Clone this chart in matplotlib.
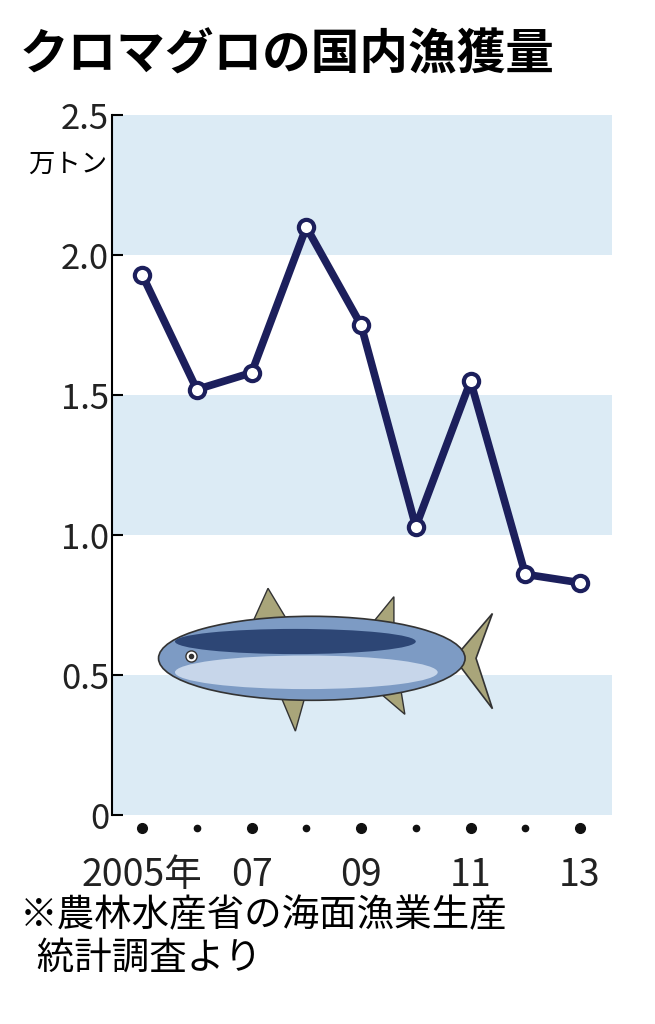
import matplotlib.pyplot as plt
import matplotlib.patches as mpatches

plt.rcParams['font.family'] = ['Noto Sans CJK JP', 'DejaVu Sans']

years = [2005, 2006, 2007, 2008, 2009, 2010, 2011, 2012, 2013]
catch = [1.93, 1.52, 1.58, 2.10, 1.75, 1.03, 1.55, 0.86, 0.83]
tick_vals = [0, 0.5, 1.0, 1.5, 2.0, 2.5]
tick_text = ['0', '0.5', '1.0', '1.5', '2.0', '2.5']
xlabels = {2005: '2005年', 2007: '07', 2009: '09', 2011: '11', 2013: '13'}

navy = '#1c1f5c'
band = '#dcebf5'

fig = plt.figure(figsize=(6.55, 10.24), dpi=100)
ax = fig.add_axes([0.171, 0.204, 0.763, 0.6836])
ax.set_xlim(2004.45, 2013.58)
ax.set_ylim(0, 2.5)
for lo in [0, 1.0, 2.0]:
    ax.axhspan(lo, lo + 0.5, color=band, zorder=0, lw=0)

# fish decoration
ax.add_patch(mpatches.Ellipse((2008.1, 0.56), 5.6, 0.30, facecolor='#7d9bc4',
                              edgecolor='#333', lw=1.2, zorder=2))
ax.add_patch(mpatches.Ellipse((2008.0, 0.51), 4.8, 0.12, facecolor='#c7d6ea',
                              edgecolor='none', zorder=3))
ax.add_patch(mpatches.Ellipse((2007.8, 0.62), 4.4, 0.09, facecolor='#2d4675',
                              edgecolor='none', zorder=3))
ax.add_patch(mpatches.Polygon([[2010.7, 0.56], [2011.4, 0.72], [2011.1, 0.56],
                               [2011.4, 0.38]], facecolor='#a9a57a',
                              edgecolor='#333', lw=1.2, zorder=1))
for pts in ([[2007.0, 0.68], [2007.3, 0.81], [2007.7, 0.68]],
            [[2009.1, 0.66], [2009.6, 0.78], [2009.6, 0.64]],
            [[2007.5, 0.44], [2007.8, 0.30], [2008.0, 0.44]],
            [[2009.2, 0.46], [2009.8, 0.36], [2009.7, 0.48]]):
    ax.add_patch(mpatches.Polygon(pts, facecolor='#a9a57a', edgecolor='#333',
                                  lw=1.0, zorder=1))
ax.plot([2005.9], [0.57], 'o', ms=8, mfc='white', mec='#333', zorder=4)
ax.plot([2005.9], [0.57], 'o', ms=3, color='#333', zorder=5)

ax.plot(years, catch, color=navy, lw=5.5, marker='o', ms=11, mfc='white',
        mec=navy, mew=3, zorder=6)

for s in ['top', 'right', 'bottom']:
    ax.spines[s].set_visible(False)
ax.spines['left'].set_linewidth(1.5)
ax.set_yticks(tick_vals)
ax.set_yticklabels(tick_text, fontsize=25, color='#222')
ax.tick_params(axis='y', length=8, width=1.5, direction='in', pad=2)
ax.set_xticks([])
ax.text(-0.01, 0.93, '万トン', transform=ax.transAxes, ha='right', va='center',
        fontsize=19)

for y in years:
    big = y in xlabels
    ax.plot([y], [-0.045], 'o', ms=7 if big else 4.5, color='#111', clip_on=False)
    if big:
        ax.text(y, -0.215, xlabels[y], ha='center', va='center', fontsize=27,
                color='#222')

fig.text(0.03, 0.946, 'クロマグロの国内漁獲量', fontsize=35, fontweight='bold',
         va='center', ha='left')
fig.text(0.03, 0.085, '※農林水産省の海面漁業生産\n  統計調査より', fontsize=27,
         va='center', ha='left', linespacing=1.1)

fig.savefig('out.png', dpi=100)
